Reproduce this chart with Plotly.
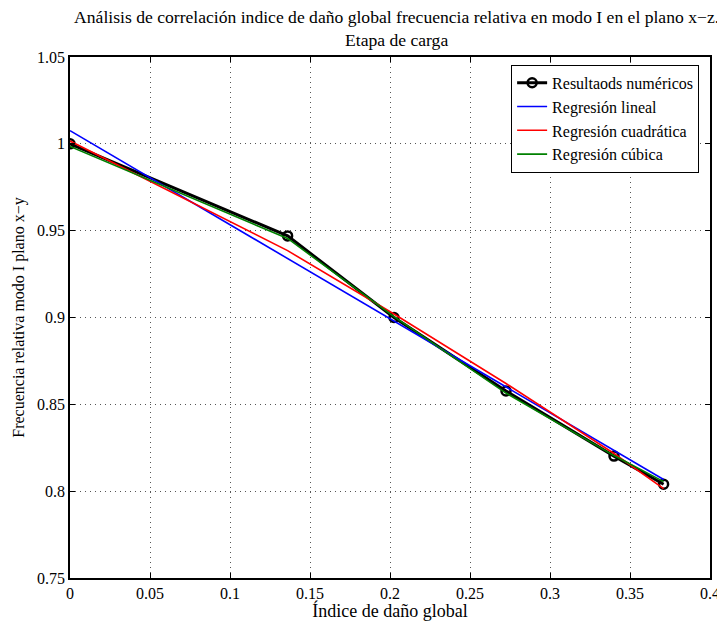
import plotly.graph_objects as go

# Data
damage_index = [0.0, 0.136, 0.2025, 0.2725, 0.34, 0.371]
freq_numeric = [1.0, 0.947, 0.9, 0.8577, 0.8202, 0.804]
freq_linear = [1.0076, 0.934, 0.898, 0.860, 0.8235, 0.8067]
freq_quadratic = [1.0016, 0.9385, 0.902, 0.862, 0.8217, 0.8015]
freq_cubic = [0.9985, 0.9455, 0.9005, 0.8565, 0.8205, 0.8055]

x_ticks = [0, 0.05, 0.1, 0.15, 0.2, 0.25, 0.3, 0.35, 0.4]
x_tick_text = ["0", "0.05", "0.1", "0.15", "0.2", "0.25", "0.3", "0.35", "0.4"]
y_ticks = [0.75, 0.8, 0.85, 0.9, 0.95, 1.0, 1.05]
y_tick_text = ["0.75", "0.8", "0.85", "0.9", "0.95", "1", "1.05"]

FONT = "Liberation Serif"

fig = go.Figure()
fig.add_trace(go.Scatter(
    x=damage_index, y=freq_numeric, mode="lines+markers",
    name="Resultaods numéricos",
    line=dict(color="black", width=3),
    marker=dict(symbol="circle-open", size=9, color="black", line=dict(width=2.5)),
))
fig.add_trace(go.Scatter(
    x=damage_index, y=freq_linear, mode="lines", name="Regresión lineal",
    line=dict(color="#0000ff", width=1.6),
))
fig.add_trace(go.Scatter(
    x=damage_index, y=freq_quadratic, mode="lines", name="Regresión cuadrática",
    line=dict(color="#ff0000", width=1.6),
))
fig.add_trace(go.Scatter(
    x=damage_index, y=freq_cubic, mode="lines", name="Regresión cúbica",
    line=dict(color="#008000", width=1.6),
))

axis_common = dict(
    showline=True, linecolor="black", linewidth=1.5, mirror="ticks",
    ticks="inside", ticklen=5, tickcolor="black",
    showgrid=True, gridcolor="#555555", griddash="1px,4px", gridwidth=1,
    zeroline=False, automargin=False,
    tickfont=dict(family=FONT, size=16, color="black"),
)

# the page adds an 8px body margin, so the figure is 8px smaller than the window
fig.update_layout(
    width=717, height=613,
    margin=dict(l=62, r=15, t=49, b=43),
    paper_bgcolor="white", plot_bgcolor="white",
    font=dict(family=FONT, size=16, color="black"),
    title=dict(
        text="Análisis de correlación indice de daño global frecuencia relativa en modo I en el plano x−z.<br>Etapa de carga",
        x=0.542, xanchor="center", y=0.975, yanchor="middle",
        font=dict(family=FONT, size=17.6, color="black"),
    ),
    xaxis=dict(
        range=[0, 0.4], tickvals=x_ticks, ticktext=x_tick_text,
        title=dict(text="Índice de daño global", font=dict(family=FONT, size=18), standoff=0),
        **axis_common,
    ),
    yaxis=dict(
        range=[0.75, 1.05], tickvals=y_ticks, ticktext=y_tick_text,
        title=dict(text="Frecuencia relativa modo I plano x−y", font=dict(family=FONT, size=16), standoff=8),
        **axis_common,
    ),
    legend=dict(
        x=0.983, y=0.985, xanchor="right", yanchor="top",
        bgcolor="white", bordercolor="black", borderwidth=1,
        font=dict(family=FONT, size=16, color="black"),
        tracegroupgap=0, itemsizing="trace",
    ),
    showlegend=True,
)

fig.write_html("out.html")
